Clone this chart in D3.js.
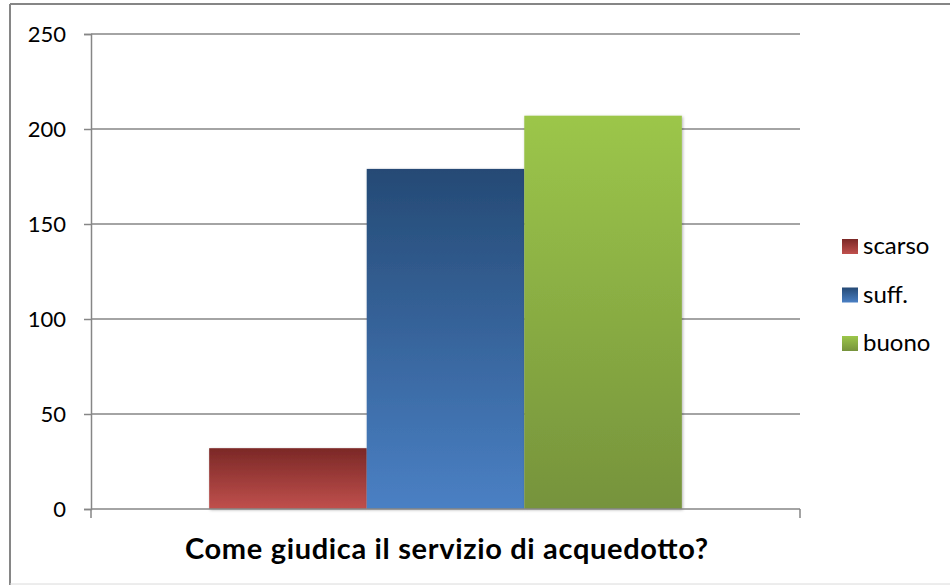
<!DOCTYPE html>
<html><head><meta charset="utf-8">
<script src="https://cdn.jsdelivr.net/npm/d3@7/dist/d3.min.js"></script>
<style>body{margin:0;background:#fff}svg{display:block}</style>
</head><body>
<script>
const categories = ["Come giudica il servizio di acquedotto?"];
const series = ["scarso", "suff.", "buono"];
const values = [32, 179, 207];
const yTicks = [0, 50, 100, 150, 200, 250];
const colors = [
  ["#7b2826", "#c0504d"],
  ["#254a75", "#4a80c4"],
  ["#9cc64a", "#76933c"]
];

const W = 950, H = 585;
const svg = d3.select("body").append("svg").attr("width", W).attr("height", H);
const defs = svg.append("defs");
colors.forEach((c, i) => {
  const g = defs.append("linearGradient").attr("id", "g" + i)
    .attr("x1", 0).attr("y1", 0).attr("x2", 0).attr("y2", 1);
  g.append("stop").attr("offset", "0%").attr("stop-color", c[0]);
  g.append("stop").attr("offset", "100%").attr("stop-color", c[1]);
});
const flt = defs.append("filter").attr("id", "sh").attr("x", "-10%").attr("y", "-10%").attr("width", "120%").attr("height", "120%");
flt.append("feDropShadow").attr("dx", 1).attr("dy", 1).attr("stdDeviation", 1.5).attr("flood-color", "#000").attr("flood-opacity", 0.3);

// outer frame
svg.append("line").attr("x1", 10).attr("x2", 10).attr("y1", 4).attr("y2", 585).attr("stroke", "#868686").attr("stroke-width", 2);
svg.append("line").attr("x1", 10).attr("x2", 950).attr("y1", 4).attr("y2", 4).attr("stroke", "#868686").attr("stroke-width", 2);
svg.append("line").attr("x1", 10).attr("x2", 950).attr("y1", 584).attr("y2", 584).attr("stroke", "#dadada").attr("stroke-width", 1);

const L = 91, R = 800, T = 34, B = 509;
const y = d3.scaleLinear().domain([0, 250]).range([B, T]);
const x0 = d3.scaleBand().domain(categories).range([L, R]).paddingInner(0).paddingOuter(0.25);
const x1 = d3.scaleBand().domain(series).range([0, x0.bandwidth()]);

// gridlines
svg.append("g").selectAll("line").data(yTicks.filter(t => t > 0)).join("line")
  .attr("x1", L).attr("x2", R).attr("y1", d => y(d)).attr("y2", d => y(d))
  .attr("stroke", "#868686").attr("stroke-width", 1.5);

// y axis
const ya = svg.append("g").attr("transform", `translate(${L},0)`)
  .call(d3.axisLeft(y).tickValues(yTicks).tickSize(7).tickPadding(18));
ya.select(".domain").attr("stroke", "#868686").attr("stroke-width", 1.5);
ya.selectAll(".tick line").attr("stroke", "#868686").attr("stroke-width", 1.5);
ya.selectAll("text").attr("font-family", "Lato, 'Open Sans', sans-serif").attr("font-size", 22).attr("fill", "#000");

// bars
svg.append("g").selectAll("rect").data(values).join("rect")
  .attr("x", (d, i) => x0(categories[0]) + x1(series[i]))
  .attr("width", x1.bandwidth())
  .attr("y", d => y(d))
  .attr("height", d => B - y(d))
  .attr("fill", (d, i) => `url(#g${i})`)
  .attr("filter", "url(#sh)");

// x axis
svg.append("line").attr("x1", L).attr("x2", R).attr("y1", B).attr("y2", B).attr("stroke", "#868686").attr("stroke-width", 1.5);
[L, R].forEach(xx => svg.append("line").attr("x1", xx).attr("x2", xx).attr("y1", B).attr("y2", B + 9).attr("stroke", "#868686").attr("stroke-width", 1.5));

svg.append("text").attr("x", 446.5).attr("y", 559).attr("text-anchor", "middle")
  .attr("font-family", "Lato, 'Open Sans', sans-serif").attr("font-weight", "bold").attr("font-size", 29)
  .attr("textLength", 523).attr("lengthAdjust", "spacing")
  .text(categories[0]);

// legend
const lg = svg.append("g");
series.forEach((s, i) => {
  const yy = 239 + i * 48.5;
  lg.append("rect").attr("x", 842).attr("y", yy).attr("width", 16).attr("height", 15).attr("fill", `url(#g${i})`);
  lg.append("text").attr("x", 863).attr("y", yy + 15).attr("font-family", "Lato, 'Open Sans', sans-serif")
    .attr("font-size", 24).text(s);
});
</script>
</body></html>
